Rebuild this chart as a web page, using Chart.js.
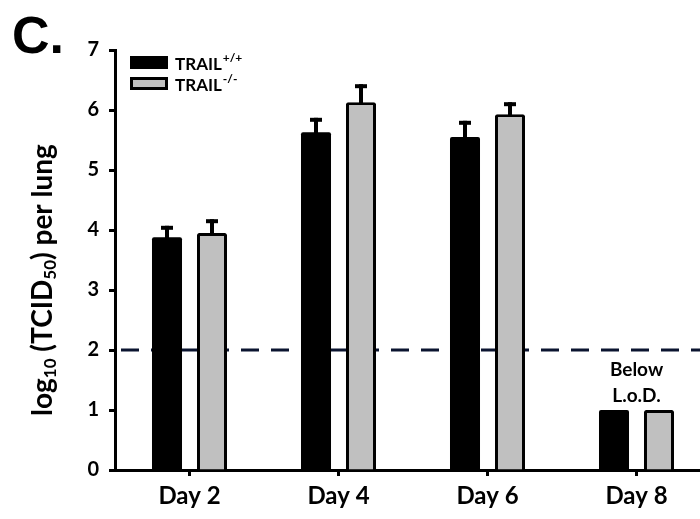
<!DOCTYPE html>
<html>
<head>
<meta charset="utf-8">
<script src="https://cdn.jsdelivr.net/npm/chart.js@4.4.1/dist/chart.umd.min.js"></script>
<style>
  html, body { margin: 0; padding: 0; background: #fff; }
  #wrap { width: 700px; height: 519px; overflow: hidden; position: relative; }
  #wrap canvas { position: absolute; left: 0; top: 0; }
</style>
</head>
<body>
<div id="wrap"><canvas id="chart" width="712" height="519"></canvas></div>
<script>
// values
const categories = ['Day 2', 'Day 4', 'Day 6', 'Day 8'];
const trailWT = [3.88, 5.63, 5.55, 1.0];
const trailWTErr = [0.19, 0.24, 0.27, 0];
const trailKO = [3.95, 6.13, 5.93, 1.0];
const trailKOErr = [0.23, 0.30, 0.20, 0];
const seriesNames = ['TRAIL', 'TRAIL'];
const seriesSup = ['+/+', '-/-'];
const yTicks = [0, 1, 2, 3, 4, 5, 6, 7];
const limitOfDetection = 2;
const lodNote = ['Below', 'L.o.D.'];
const panelLetter = 'C.';
const yTitleParts = [['log', 0], ['10', 1], [' (TCID', 0], ['50', 1], [') per lung', 0]];

const FONT = 'Lato, "Open Sans", sans-serif';

var errorBars = {
  id: 'errorBars',
  afterDatasetsDraw: function(chart) {
    var ctx = chart.ctx, y = chart.scales.y;
    var errs = [trailWTErr, trailKOErr];
    chart.data.datasets.forEach(function(ds, di) {
      var meta = chart.getDatasetMeta(di);
      meta.data.forEach(function(bar, i) {
        var e = errs[di][i];
        if (!e) return;
        var top = y.getPixelForValue(ds.data[i] + e);
        ctx.save();
        ctx.fillStyle = '#000';
        ctx.fillRect(bar.x - 2, top, 4, bar.y - top + 2);
        ctx.fillRect(bar.x - 6, top, 12, 4);
        ctx.restore();
      });
    });
  }
};

var lodLine = {
  id: 'lodLine',
  beforeDatasetsDraw: function(chart) {
    var ctx = chart.ctx, a = chart.chartArea;
    var py = chart.scales.y.getPixelForValue(limitOfDetection);
    ctx.save();
    ctx.strokeStyle = '#0b1430';
    ctx.lineWidth = 3;
    ctx.setLineDash([18, 12]);
    ctx.beginPath();
    ctx.moveTo(a.left + 6, py);
    ctx.lineTo(a.right, py);
    ctx.stroke();
    ctx.restore();
  }
};

var extras = {
  id: 'extras',
  afterDraw: function(chart) {
    var ctx = chart.ctx, x = chart.scales.x;
    ctx.save();
    // panel letter
    ctx.fillStyle = '#000';
    ctx.font = 'bold 52px "Liberation Sans", Arial, sans-serif';
    ctx.textBaseline = 'alphabetic';
    ctx.textAlign = 'left';
    ctx.fillText(panelLetter, 12, 53);

    // note above Day 8
    ctx.font = 'bold 19px ' + FONT;
    ctx.textAlign = 'center';
    ctx.textBaseline = 'middle';
    var cx = x.getPixelForValue(3);
    ctx.fillText(lodNote[0], cx, 370);
    ctx.fillText(lodNote[1], cx, 396);

    // legend
    ctx.textAlign = 'left';
    ctx.textBaseline = 'alphabetic';
    chart.data.datasets.forEach(function(ds, i) {
      var by = 56 + i * 21;
      ctx.fillStyle = '#000';
      ctx.fillRect(130, by, 38, 13);
      if (ds.backgroundColor !== '#000000') {
        ctx.fillStyle = ds.backgroundColor;
        ctx.fillRect(133, by + 3, 32, 7);
      }
      ctx.fillStyle = '#000';
      ctx.font = 'bold 17px ' + FONT;
      ctx.fillText(seriesNames[i], 175, by + 14);
      var w = ctx.measureText(seriesNames[i]).width;
      ctx.font = 'bold 12px ' + FONT;
      ctx.fillText(seriesSup[i], 175 + w + 1, by + 6);
    });

    // y axis title with subscripts
    ctx.translate(44, 280);
    ctx.rotate(-Math.PI / 2);
    var big = 'bold 28px ' + FONT, small = 'bold 17px ' + FONT;
    var total = 0;
    yTitleParts.forEach(function(p) {
      ctx.font = p[1] ? small : big;
      total += ctx.measureText(p[0]).width;
    });
    var px = -total / 2;
    yTitleParts.forEach(function(p) {
      ctx.font = p[1] ? small : big;
      ctx.fillText(p[0], px, p[1] ? 12 : 8);
      px += ctx.measureText(p[0]).width;
    });
    ctx.restore();
  }
};

new Chart(document.getElementById('chart'), {
  type: 'bar',
  data: {
    labels: categories,
    datasets: [
      {
        label: seriesNames[0] + seriesSup[0],
        data: trailWT,
        backgroundColor: '#000000',
        borderColor: '#000000',
        borderWidth: 0,
        borderRadius: 2,
        categoryPercentage: 0.604,
        barPercentage: 0.667
      },
      {
        label: seriesNames[1] + seriesSup[1],
        data: trailKO,
        backgroundColor: '#c0c0c0',
        borderColor: '#000000',
        borderWidth: 3,
        borderRadius: 2,
        categoryPercentage: 0.604,
        barPercentage: 0.667
      }
    ]
  },
  options: {
    responsive: false,
    animation: false,
    layout: { padding: { top: 50, left: 0, right: 1, bottom: 0 } },
    plugins: { legend: { display: false }, tooltip: { enabled: false } },
    scales: {
      x: {
        afterFit: function(s) { s.height = 49; },
        border: { color: '#000', width: 3 },
        grid: { offset: false, drawOnChartArea: false, drawTicks: true, tickLength: 6, tickWidth: 3, tickColor: '#000' },
        ticks: { color: '#000', font: { family: FONT, size: 24, weight: 'bold' }, padding: 6 }
      },
      y: {
        min: 0,
        max: 7,
        afterFit: function(s) { s.width = 115; },
        afterBuildTicks: function(s) { s.ticks = yTicks.map(function(v) { return { value: v }; }); },
        border: { color: '#000', width: 3 },
        grid: { drawOnChartArea: false, drawTicks: true, tickLength: 6, tickWidth: 3, tickColor: '#000' },
        ticks: { color: '#000', font: { family: FONT, size: 20, weight: 'bold' }, padding: 10 }
      }
    }
  },
  plugins: [lodLine, errorBars, extras]
});
</script>
</body>
</html>
